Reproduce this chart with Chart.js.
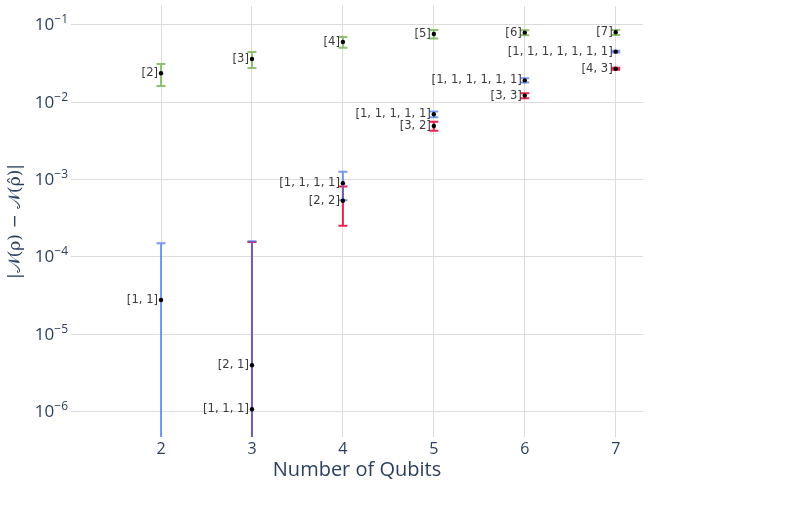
<!DOCTYPE html>
<html><head><meta charset="utf-8">
<script src="https://cdn.jsdelivr.net/npm/chart.js@4/dist/chart.umd.min.js"></script>
<style>html,body{margin:0;padding:0;background:#fff}</style>
</head><body>
<canvas id="c" width="794" height="518"></canvas>
<script>
// ---- data ----
const qubits = [2, 3, 4, 5, 6, 7];
const singleLabels = ['[2]', '[3]', '[4]', '[5]', '[6]', '[7]'];
const singleValues = [0.0237, 0.0363, 0.0603, 0.0765, 0.0796, 0.0804];
const singleErrors = [0.0075, 0.0085, 0.0096, 0.0098, 0.006, 0.006];

const allOnesLabels = ['[1, 1]', '[1, 1, 1]', '[1, 1, 1, 1]', '[1, 1, 1, 1, 1]', '[1, 1, 1, 1, 1, 1]', '[1, 1, 1, 1, 1, 1, 1]'];
const allOnesValues = [2.77e-5, 1.07e-6, 9.0e-4, 7.0e-3, 0.0192, 0.0452];
const allOnesErrors = [1.22e-4, 1.58e-4, 3.6e-4, 6.0e-4, 0.0012, 0.0013];

const twoPartQubits = [3, 4, 5, 6, 7];
const twoPartLabels = ['[2, 1]', '[2, 2]', '[3, 2]', '[3, 3]', '[4, 3]'];
const twoPartValues = [3.96e-6, 5.33e-4, 4.93e-3, 0.0122, 0.0272];
const twoPartErrors = [1.52e-4, 2.8e-4, 6.5e-4, 9.0e-4, 8.0e-4];

const xTickValues = [2, 3, 4, 5, 6, 7];
const yTickValues = [1e-1, 1e-2, 1e-3, 1e-4, 1e-5, 1e-6];
const yTickBases = ['10', '10', '10', '10', '10', '10'];
const yTickExponents = ['\u22121', '\u22122', '\u22123', '\u22124', '\u22125', '\u22126'];

const xAxisTitle = 'Number of Qubits';
const yAxisTitle = '|\u{1D4A9}(\u03C1) \u2212 \u{1D4A9}(\u03C1\u0302)|';

const TEXT = '#2a3f5f';
const GRID = '#dcdcdc';

function pts(xs, ys) { return xs.map((x, i) => ({ x: x, y: ys[i] })); }

const datasets = [
  { label: 'single', data: pts(qubits, singleValues), errors: singleErrors, labels: singleLabels, barColor: 'rgba(124,182,90,0.85)' },
  { label: 'two', data: pts(twoPartQubits, twoPartValues), errors: twoPartErrors, labels: twoPartLabels, barColor: 'rgba(232,18,62,0.92)' },
  { label: 'ones', data: pts(qubits, allOnesValues), errors: allOnesErrors, labels: allOnesLabels, barColor: 'rgba(70,115,235,0.72)' }
].map(d => Object.assign(d, {
  showLine: false, pointRadius: 2.2, pointHoverRadius: 2.2,
  pointBackgroundColor: '#000', pointBorderWidth: 0, borderColor: '#000'
}));

const errorBars = {
  id: 'errorBars',
  beforeDatasetsDraw(chart) {
    const ctx = chart.ctx, ys = chart.scales.y, area = chart.chartArea;
    ctx.save();
    ctx.beginPath();
    ctx.rect(area.left, area.top, area.right - area.left, area.bottom - area.top);
    ctx.clip();
    chart.data.datasets.forEach((ds, di) => {
      const meta = chart.getDatasetMeta(di);
      ctx.strokeStyle = ds.barColor;
      ctx.lineWidth = 2;
      ds.data.forEach((p, i) => {
        const e = ds.errors[i];
        const x = meta.data[i].x;
        const yTop = ys.getPixelForValue(p.y + e);
        const lo = p.y - e;
        const hasLow = lo > 0;
        const yBot = hasLow ? ys.getPixelForValue(lo) : area.bottom + 2;
        ctx.beginPath();
        ctx.moveTo(x, yTop); ctx.lineTo(x, yBot);
        ctx.moveTo(x - 4.5, yTop); ctx.lineTo(x + 4.5, yTop);
        if (hasLow) { ctx.moveTo(x - 4.5, yBot); ctx.lineTo(x + 4.5, yBot); }
        ctx.stroke();
      });
    });
    ctx.restore();
  }
};

const pointLabels = {
  id: 'pointLabels',
  afterDatasetsDraw(chart) {
    const ctx = chart.ctx;
    ctx.save();
    ctx.font = '11.6px "DejaVu Sans"';
    ctx.fillStyle = '#3a3a3a';
    ctx.textAlign = 'right';
    ctx.textBaseline = 'middle';
    chart.data.datasets.forEach((ds, di) => {
      const meta = chart.getDatasetMeta(di);
      ds.labels.forEach((t, i) => {
        const el = meta.data[i];
        ctx.fillText(t, el.x - 3, el.y);
      });
    });
    ctx.restore();
  }
};

const yTickLabels = {
  id: 'yTickLabels',
  afterDraw(chart) {
    const ctx = chart.ctx, ys = chart.scales.y;
    const right = chart.chartArea.left - 3;
    ctx.save();
    ctx.fillStyle = TEXT;
    ctx.textBaseline = 'middle';
    ctx.textAlign = 'left';
    yTickValues.forEach((v, i) => {
      const y = ys.getPixelForValue(v);
      ctx.font = '12px "Open Sans"';
      const ew = ctx.measureText(yTickExponents[i]).width;
      ctx.font = '17px "Open Sans"';
      const bw = ctx.measureText(yTickBases[i]).width;
      const x0 = right - ew - bw;
      ctx.fillText(yTickBases[i], x0, y + 0.5);
      ctx.font = '12px "Open Sans"';
      ctx.fillText(yTickExponents[i], x0 + bw, y - 5);
    });
    ctx.restore();
  }
};

new Chart(document.getElementById('c'), {
  type: 'scatter',
  data: { datasets: datasets },
  plugins: [errorBars, pointLabels, yTickLabels],
  options: {
    responsive: false, animation: false, devicePixelRatio: 1,
    layout: { padding: { top: 6, right: 151, left: 0, bottom: 0 } },
    plugins: { legend: { display: false }, tooltip: { enabled: false } },
    scales: {
      x: {
        type: 'linear', min: 1.01, max: 7.3,
        afterBuildTicks: s => { s.ticks = xTickValues.map(v => ({ value: v })); },
        afterFit: s => { s.height = 81; },
        grid: { color: GRID, drawTicks: false },
        border: { display: false },
        ticks: { color: TEXT, font: { family: 'Open Sans', size: 16 }, padding: 3, maxRotation: 0 },
        title: { display: true, text: xAxisTitle, color: TEXT, font: { family: 'Open Sans', size: 20 }, padding: { top: 0, bottom: 36 } }
      },
      y: {
        type: 'logarithmic', min: 4.68e-7, max: 0.176,
        afterBuildTicks: s => { s.ticks = yTickValues.map(v => ({ value: v })); },
        afterFit: s => { s.width = 71; },
        grid: { color: GRID, drawTicks: false },
        border: { display: false },
        ticks: { display: false },
        title: { display: true, text: yAxisTitle, color: TEXT, font: { family: 'DejaVu Serif', size: 17 }, padding: { top: 5, bottom: 0 } }
      }
    }
  }
});
</script>
</body></html>
